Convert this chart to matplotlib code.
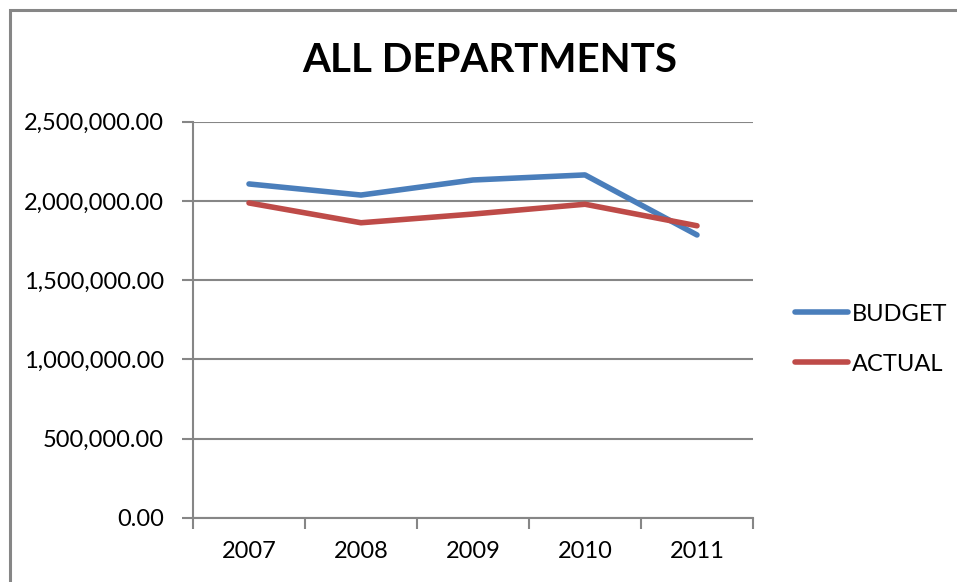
import matplotlib
matplotlib.use("Agg")
import matplotlib.pyplot as plt
from matplotlib.patches import Rectangle
from matplotlib.ticker import FuncFormatter

years = ["2007", "2008", "2009", "2010", "2011"]
budget = [2107000, 2037000, 2132000, 2164000, 1785000]
actual = [1987000, 1862000, 1917000, 1979000, 1843000]

plt.rcParams["font.family"] = ["Lato", "DejaVu Sans"]

fig = plt.figure(figsize=(9.57, 5.82), dpi=100)
fig.patch.set_facecolor("white")

# outer chart frame (top and left edges visible)
fig.add_artist(Rectangle((10 / 957, -0.05), 1.0, 1 - 10 / 582 + 0.05,
                         transform=fig.transFigure, fill=False,
                         edgecolor="#868686", linewidth=2.2))

ax = fig.add_axes([193 / 957, 1 - 517.7 / 582, (753 - 193) / 957, (517.7 - 121.7) / 582])

x = list(range(len(years)))
ax.plot(x, budget, color="#4a7ebb", linewidth=4.0, solid_capstyle="round",
        solid_joinstyle="round", label="BUDGET", zorder=3)
ax.plot(x, actual, color="#be4b48", linewidth=4.0, solid_capstyle="round",
        solid_joinstyle="round", label="ACTUAL", zorder=3)

ax.set_xlim(-0.5, 4.5)
ax.set_ylim(0, 2500000)
ax.set_yticks([0, 500000, 1000000, 1500000, 2000000, 2500000])
ax.yaxis.set_major_formatter(FuncFormatter(lambda v, p: f"{v:,.2f}"))
ax.grid(axis="y", color="#868686", linewidth=1.5)
ax.set_axisbelow(True)

# category boundaries as major ticks, labels on minor ticks
ax.set_xticks([i - 0.5 for i in range(len(years) + 1)])
ax.set_xticklabels([])
ax.set_xticks(x, minor=True)
ax.set_xticklabels(years, minor=True)
ax.tick_params(axis="x", which="major", length=8, width=1.5, color="#868686", direction="out")
ax.tick_params(axis="x", which="minor", length=0, pad=17, labelsize=17)
ax.tick_params(axis="y", length=8, width=1.5, color="#868686", pad=13, labelsize=17)

for side in ["top", "right"]:
    ax.spines[side].set_visible(False)
for side in ["left", "bottom"]:
    ax.spines[side].set_color("#868686")
    ax.spines[side].set_linewidth(1.5)

fig.text(490 / 957, 1 - 60 / 582, "ALL DEPARTMENTS", ha="center", va="center",
         fontsize=29, fontweight="bold")

leg = ax.legend(loc="center left", bbox_to_anchor=(1.075, 0.451), frameon=False,
                borderaxespad=0, borderpad=0, fontsize=17, handlelength=2.25,
                handletextpad=0.15, labelspacing=1.22)

fig.savefig("out.png", dpi=100)
